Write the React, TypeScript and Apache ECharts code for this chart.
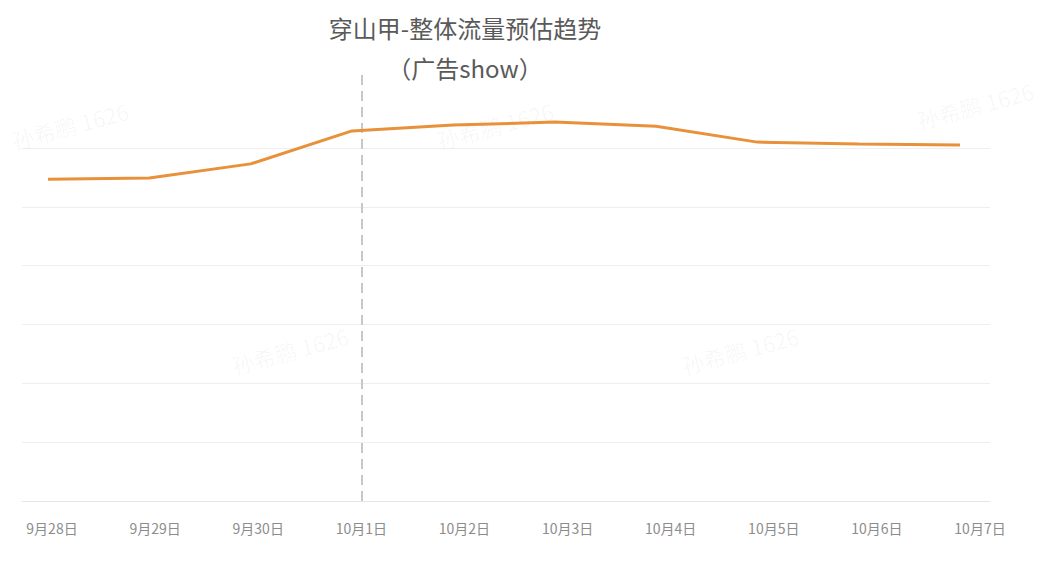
import React, { useEffect, useRef } from "react";
import * as echarts from "echarts";

const categories = ["9月28日", "9月29日", "9月30日", "10月1日", "10月2日", "10月3日", "10月4日", "10月5日", "10月6日", "10月7日"];
const values = [5.47, 5.49, 5.73, 6.29, 6.39, 6.44, 6.37, 6.1, 6.07, 6.05];
const titleLines = ["穿山甲-整体流量预估趋势", "（广告show）"];
const markCategory = "10月1日";
const watermark = "孙希鹏 1626";

const FONT = "'Noto Sans CJK SC', 'Noto Sans', sans-serif";

export default function App() {
  const ref = useRef<HTMLDivElement>(null);
  useEffect(() => {
    if (!ref.current) return;
    const chart = echarts.init(ref.current, undefined, { renderer: "svg" });
    const wmPos = [
      [70, 125],
      [495, 125],
      [290, 350],
      [740, 350],
      [975, 105],
    ];
    chart.setOption({
      animation: false,
      backgroundColor: "#ffffff",
      title: {
        text: titleLines.join("\n"),
        left: 460,
        top: 2,
        textAlign: "center",
        textStyle: {
          fontFamily: FONT,
          fontSize: 24,
          fontWeight: "normal",
          color: "#5a5a5a",
          lineHeight: 40,
        },
      },
      graphic: wmPos.map(([x, y]) => ({
        type: "text",
        x,
        y,
        rotation: 0.26,
        silent: true,
        style: {
          text: watermark,
          fontSize: 22,
          fontFamily: FONT,
          fill: "rgba(0,0,0,0.04)",
          align: "center",
          verticalAlign: "middle",
        },
        z: 0,
      })),
      grid: [
        { left: 22, right: 50, top: 148, bottom: 71 },
        { left: 48, right: 80, top: 148, bottom: 71 },
        { left: 52, right: 60, top: 70, bottom: 71 },
      ],
      xAxis: [
        {
          gridIndex: 0,
          type: "category",
          data: categories,
          boundaryGap: false,
          axisLine: { show: true, lineStyle: { color: "#e6e6e6", width: 1 } },
          axisTick: { show: false },
          axisLabel: { show: false },
          splitLine: { show: false },
        },
        {
          gridIndex: 1,
          type: "category",
          data: categories,
          boundaryGap: false,
          show: false,
        },
        {
          gridIndex: 2,
          type: "category",
          data: categories,
          boundaryGap: false,
          axisLine: { show: false },
          axisTick: { show: false },
          axisLabel: {
            show: true,
            color: "#8c8c8c",
            fontSize: 14,
            fontFamily: FONT,
            margin: 20,
            interval: 0,
          },
          splitLine: { show: false },
        },
      ],
      yAxis: [
        {
          gridIndex: 0,
          type: "value",
          min: 0,
          max: 6,
          interval: 1,
          axisLine: { show: false },
          axisTick: { show: false },
          axisLabel: { show: false },
          splitLine: { show: true, lineStyle: { color: "#eeeeee", width: 1 } },
        },
        { gridIndex: 1, type: "value", min: 0, max: 6, interval: 1, show: false, splitLine: { show: false } },
        { gridIndex: 2, type: "value", min: 0, max: 1, show: false, splitLine: { show: false } },
      ],
      series: [
        {
          type: "line",
          xAxisIndex: 1,
          yAxisIndex: 1,
          data: values,
          clip: false,
          showSymbol: false,
          symbol: "none",
          lineStyle: { color: "#E8913A", width: 3 },
          z: 5,
        },
        {
          type: "line",
          xAxisIndex: 2,
          yAxisIndex: 2,
          data: [],
          silent: true,
          markLine: {
            silent: true,
            symbol: ["none", "none"],
            label: { show: false },
            lineStyle: { type: [10, 6], color: "#c8c8c8", width: 2 },
            data: [{ xAxis: markCategory }],
          },
        },
      ],
    });
    return () => chart.dispose();
  }, []);
  return (
    <div
      ref={ref}
      style={{ position: "fixed", left: 0, top: 0, width: 1040, height: 572 }}
    />
  );
}
